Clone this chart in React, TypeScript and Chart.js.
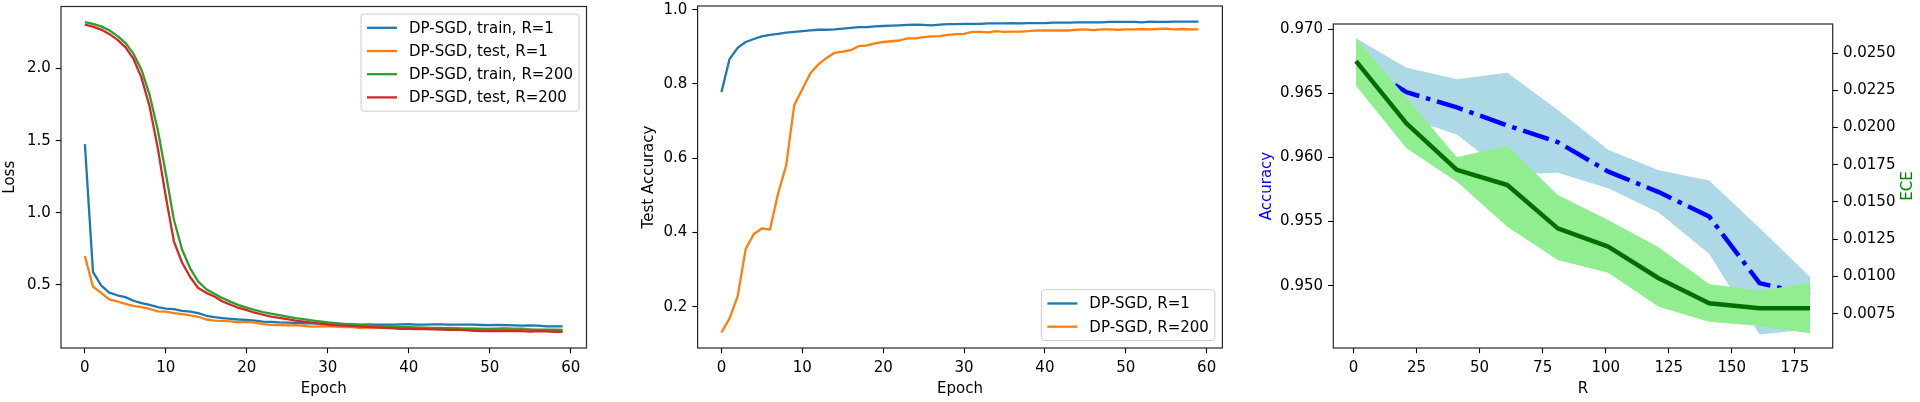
import React, { useEffect, useRef } from "react";
import { Chart, registerables } from "chart.js";

Chart.register(...registerables);

const FAMILY = "'DejaVu Sans', sans-serif";
const FS = 15;

// ---------- Panel 1: loss ----------
const epochs = Array.from({ length: 60 }, (_, i) => i);
const lossTrainR1 = [
  1.476, 0.59, 0.497, 0.447, 0.428, 0.415, 0.39, 0.373, 0.362, 0.346,
  0.336, 0.332, 0.32, 0.314, 0.304, 0.286, 0.276, 0.27, 0.265, 0.26,
  0.258, 0.252, 0.246, 0.244, 0.24, 0.238, 0.236, 0.234, 0.233, 0.231,
  0.23, 0.228, 0.227, 0.226, 0.225, 0.226, 0.225, 0.224, 0.225, 0.226,
  0.227, 0.225, 0.224, 0.226, 0.226, 0.225, 0.225, 0.224, 0.224, 0.222,
  0.221, 0.222, 0.221, 0.22, 0.218, 0.219, 0.217, 0.212, 0.213, 0.212,
];
const lossTestR1 = [
  0.7, 0.488, 0.445, 0.4, 0.385, 0.368, 0.355, 0.346, 0.333, 0.316,
  0.314, 0.305, 0.297, 0.289, 0.279, 0.26, 0.252, 0.25, 0.247, 0.24,
  0.244, 0.238, 0.228, 0.223, 0.222, 0.22, 0.221, 0.216, 0.21, 0.212,
  0.213, 0.21, 0.208, 0.209, 0.2, 0.205, 0.203, 0.202, 0.2, 0.198,
  0.203, 0.2, 0.198, 0.196, 0.198, 0.202, 0.198, 0.197, 0.196, 0.195,
  0.197, 0.199, 0.201, 0.197, 0.198, 0.19, 0.185, 0.183, 0.182, 0.181,
];
const lossTrainR200 = [
  2.321, 2.31, 2.292, 2.265, 2.226, 2.178, 2.103, 1.99, 1.815, 1.575,
  1.27, 0.95, 0.745, 0.615, 0.523, 0.47, 0.438, 0.408, 0.382, 0.36,
  0.342, 0.326, 0.312, 0.3, 0.29, 0.28, 0.27, 0.262, 0.254, 0.247,
  0.24, 0.235, 0.23, 0.226, 0.222, 0.219, 0.216, 0.213, 0.211, 0.209,
  0.207, 0.205, 0.204, 0.202, 0.201, 0.199, 0.198, 0.197, 0.196, 0.195,
  0.194, 0.193, 0.192, 0.192, 0.191, 0.19, 0.19, 0.189, 0.189, 0.188,
];
const lossTestR200 = [
  2.305, 2.29, 2.27, 2.24, 2.2, 2.148, 2.068, 1.935, 1.735, 1.45,
  1.11, 0.8, 0.655, 0.555, 0.478, 0.445, 0.42, 0.385, 0.362, 0.34,
  0.325, 0.307, 0.293, 0.28, 0.272, 0.262, 0.253, 0.245, 0.238, 0.232,
  0.225, 0.22, 0.217, 0.214, 0.21, 0.207, 0.205, 0.203, 0.2, 0.196,
  0.195, 0.194, 0.193, 0.191, 0.19, 0.188, 0.189, 0.186, 0.182, 0.18,
  0.18, 0.181, 0.18, 0.179, 0.179, 0.176, 0.18, 0.178, 0.175, 0.174,
];
const lossLabels = [
  "DP-SGD, train, R=1",
  "DP-SGD, test, R=1",
  "DP-SGD, train, R=200",
  "DP-SGD, test, R=200",
];
const epochTicks = [0, 10, 20, 30, 40, 50, 60];
const lossTicks = [0.5, 1.0, 1.5, 2.0];

// ---------- Panel 2: test accuracy ----------
const accR1 = [
  0.778, 0.867, 0.897, 0.913, 0.921, 0.928, 0.932, 0.935, 0.938, 0.94,
  0.942, 0.944, 0.946, 0.946, 0.947, 0.949, 0.951, 0.953, 0.953, 0.955,
  0.956, 0.957, 0.958, 0.959, 0.96, 0.959, 0.958, 0.96, 0.961, 0.961,
  0.962, 0.962, 0.962, 0.963, 0.963, 0.963, 0.964, 0.963, 0.964, 0.964,
  0.964, 0.965, 0.965, 0.965, 0.966, 0.966, 0.966, 0.966, 0.967, 0.967,
  0.967, 0.967, 0.966, 0.968, 0.967, 0.967, 0.968, 0.968, 0.968, 0.968,
];
const accR200 = [
  0.131, 0.169, 0.228, 0.356, 0.396, 0.411, 0.408, 0.505, 0.58, 0.743,
  0.786, 0.829, 0.853, 0.87, 0.884, 0.887, 0.891, 0.902, 0.904, 0.909,
  0.913, 0.915, 0.917, 0.923, 0.923, 0.926, 0.928, 0.929, 0.932, 0.934,
  0.935, 0.94, 0.94, 0.939, 0.942, 0.94, 0.941, 0.941, 0.942, 0.944,
  0.944, 0.944, 0.944, 0.944, 0.946, 0.947, 0.945, 0.947, 0.947, 0.946,
  0.947, 0.947, 0.948, 0.947, 0.948, 0.949, 0.947, 0.948, 0.947, 0.947,
];
const accLabels = ["DP-SGD, R=1", "DP-SGD, R=200"];
const accTicks = [0.2, 0.4, 0.6, 0.8, 1.0];

// ---------- Panel 3: accuracy & ECE vs R ----------
const Rvals = [1, 21, 41, 61, 81, 101, 121, 141, 161, 181];
const accMean = [0.9675, 0.9651, 0.9639, 0.9625, 0.9612, 0.9589, 0.9573, 0.9554, 0.9502, 0.9493];
const accUpper = [0.9693, 0.967, 0.9661, 0.9666, 0.9637, 0.9606, 0.959, 0.9582, 0.9545, 0.9507];
const accLower = [0.966, 0.9631, 0.9618, 0.9587, 0.9588, 0.9576, 0.9557, 0.9525, 0.9462, 0.9466];
const eceMean = [0.02446, 0.02028, 0.01715, 0.01614, 0.01323, 0.012, 0.00988, 0.0082, 0.00786, 0.00786];
const eceUpper = [0.026, 0.022, 0.018, 0.01878, 0.01547, 0.01379, 0.01196, 0.00949, 0.00904, 0.00958];
const eceLower = [0.0228, 0.0186, 0.01636, 0.01334, 0.0111, 0.01025, 0.00797, 0.00696, 0.00667, 0.00618];
const rTicks = [0, 25, 50, 75, 100, 125, 150, 175];
const accRTicks = [0.95, 0.955, 0.96, 0.965, 0.97];
const eceTicks = [0.0075, 0.01, 0.0125, 0.015, 0.0175, 0.02, 0.0225, 0.025];

const C_BLUE = "#1f77b4";
const C_ORANGE = "#ff7f0e";
const C_GREEN = "#2ca02c";
const C_RED = "#d62728";

const font = { family: FAMILY, size: FS };
const LW = 2.3;
const TICKLEN = 5.25;

const pts = (xs: number[], ys: number[]) => xs.map((x, i) => ({ x, y: ys[i] }));

const framePlugin = {
  id: "frame",
  afterDatasetsDraw(chart: any) {
    const { ctx, chartArea: a } = chart;
    ctx.save();
    ctx.strokeStyle = "#262626";
    ctx.lineWidth = 1.2;
    ctx.strokeRect(a.left, a.top, a.right - a.left, a.bottom - a.top);
    ctx.restore();
  },
};

const legendPlugin = {
  id: "mplLegend",
  afterDraw(chart: any, _args: any, opts: any) {
    if (!opts || !opts.items) return;
    const { ctx, chartArea: a } = chart;
    const em = FS;
    const pad = 0.4 * em;
    const hl = 2 * em;
    const htp = 0.8 * em;
    const h = 15.6;
    const s = 7.6;
    const items = opts.items as { label: string; color: string }[];
    ctx.save();
    ctx.font = `${FS}px ${FAMILY}`;
    const tw = Math.max(...items.map((it) => ctx.measureText(it.label).width));
    const w = pad + hl + htp + tw + pad;
    const H = items.length * (h + s) - s + 2 * pad;
    const right = a.right - 0.5 * em;
    const left = right - w;
    const top = opts.loc === "lower right" ? a.bottom - 0.5 * em - H : a.top + 0.5 * em;
    ctx.beginPath();
    const r = 3;
    ctx.moveTo(left + r, top);
    ctx.lineTo(left + w - r, top);
    ctx.arcTo(left + w, top, left + w, top + r, r);
    ctx.lineTo(left + w, top + H - r);
    ctx.arcTo(left + w, top + H, left + w - r, top + H, r);
    ctx.lineTo(left + r, top + H);
    ctx.arcTo(left, top + H, left, top + H - r, r);
    ctx.lineTo(left, top + r);
    ctx.arcTo(left, top, left + r, top, r);
    ctx.closePath();
    ctx.fillStyle = "rgba(255,255,255,0.8)";
    ctx.fill();
    ctx.strokeStyle = "#cccccc";
    ctx.lineWidth = 1;
    ctx.stroke();
    items.forEach((it, i) => {
      const cy = top + pad + h / 2 + i * (h + s);
      ctx.beginPath();
      ctx.strokeStyle = it.color;
      ctx.lineWidth = LW;
      ctx.moveTo(left + pad, cy);
      ctx.lineTo(left + pad + hl, cy);
      ctx.stroke();
      ctx.fillStyle = "#000";
      ctx.textAlign = "left";
      ctx.textBaseline = "middle";
      ctx.fillText(it.label, left + pad + hl + htp, cy + 1);
    });
    ctx.restore();
  },
};

const rightTitlePlugin = {
  id: "rightTitle",
  afterDraw(chart: any, _args: any, opts: any) {
    if (!opts || !opts.text) return;
    const { ctx } = chart;
    ctx.save();
    ctx.font = `${FS}px ${FAMILY}`;
    ctx.fillStyle = opts.color;
    ctx.translate(opts.x, opts.y);
    ctx.rotate(-Math.PI / 2);
    ctx.textAlign = "center";
    ctx.textBaseline = "middle";
    ctx.fillText(opts.text, 0, 0);
    ctx.restore();
  },
};

function tickGrid() {
  return {
    display: true,
    drawOnChartArea: false,
    drawTicks: true,
    tickLength: TICKLEN,
    tickColor: "#000",
    tickWidth: 1.1,
  };
}

function xScale(min: number, max: number, ticks: number[], title: string) {
  return {
    type: "linear",
    min,
    max,
    afterBuildTicks: (s: any) => {
      s.ticks = ticks.map((v) => ({ value: v }));
    },
    afterFit: (s: any) => {
      s.height = 54;
      s.paddingLeft = 0;
      s.paddingRight = 0;
    },
    ticks: {
      font,
      color: "#000",
      padding: 5.5,
      maxRotation: 0,
      autoSkip: false,
      callback: (v: number) => String(v),
    },
    grid: tickGrid(),
    border: { display: false },
    title: { display: true, text: title, font, color: "#000", padding: { top: 0, bottom: 4 } },
  };
}

function yScale(
  min: number,
  max: number,
  ticks: number[],
  digits: number,
  width: number,
  position: string,
  title: any
) {
  return {
    type: "linear",
    position,
    min,
    max,
    afterBuildTicks: (s: any) => {
      s.ticks = ticks.map((v) => ({ value: v }));
    },
    afterFit: (s: any) => {
      s.width = width;
      s.paddingTop = 0;
      s.paddingBottom = 0;
    },
    ticks: {
      font,
      color: "#000",
      padding: 5,
      autoSkip: false,
      callback: (v: number) => v.toFixed(digits),
    },
    grid: tickGrid(),
    border: { display: false },
    title,
  };
}

function lineDs(label: string, xs: number[], ys: number[], color: string, order: number) {
  return {
    label,
    data: pts(xs, ys),
    borderColor: color,
    backgroundColor: color,
    borderWidth: LW,
    pointRadius: 0,
    tension: 0,
    fill: false,
    order,
    borderJoinStyle: "round",
    borderCapStyle: "butt",
  };
}

function makeLoss(): any {
  return {
    type: "line",
    data: {
      datasets: [
        lineDs(lossLabels[0], epochs, lossTrainR1, C_BLUE, 4),
        lineDs(lossLabels[1], epochs, lossTestR1, C_ORANGE, 3),
        lineDs(lossLabels[2], epochs, lossTrainR200, C_GREEN, 2),
        lineDs(lossLabels[3], epochs, lossTestR200, C_RED, 1),
      ],
    },
    options: {
      responsive: false,
      animation: false,
      devicePixelRatio: 1,
      events: [],
      layout: { padding: { left: 0, right: 53.5, top: 6.5, bottom: 0 } },
      scales: {
        x: xScale(-2.95, 61.95, epochTicks, "Epoch"),
        y: yScale(0.0625, 2.43, lossTicks, 1, 61, "left", {
          display: true,
          text: "Loss",
          font,
          color: "#000",
          padding: { top: 1, bottom: 0 },
        }),
      },
      plugins: {
        legend: { display: false },
        tooltip: { enabled: false },
        mplLegend: {
          loc: "upper right",
          items: [
            { label: lossLabels[0], color: C_BLUE },
            { label: lossLabels[1], color: C_ORANGE },
            { label: lossLabels[2], color: C_GREEN },
            { label: lossLabels[3], color: C_RED },
          ],
        },
      },
    },
    plugins: [framePlugin, legendPlugin],
  };
}

function makeAcc(): any {
  return {
    type: "line",
    data: {
      datasets: [
        lineDs(accLabels[0], epochs, accR1, C_BLUE, 2),
        lineDs(accLabels[1], epochs, accR200, C_ORANGE, 1),
      ],
    },
    options: {
      responsive: false,
      animation: false,
      devicePixelRatio: 1,
      events: [],
      layout: { padding: { left: 0, right: 17.6, top: 6, bottom: 0 } },
      scales: {
        x: xScale(-2.95, 61.95, epochTicks, "Epoch"),
        y: yScale(0.0892, 1.0099, accTicks, 1, 57.6, "left", {
          display: true,
          text: "Test Accuracy",
          font,
          color: "#000",
          padding: { top: 0, bottom: 0 },
        }),
      },
      plugins: {
        legend: { display: false },
        tooltip: { enabled: false },
        mplLegend: {
          loc: "lower right",
          items: [
            { label: accLabels[0], color: C_BLUE },
            { label: accLabels[1], color: C_ORANGE },
          ],
        },
      },
    },
    plugins: [framePlugin, legendPlugin],
  };
}

function makeR(): any {
  const band = (ys: number[], axis: string, order: number, fill: any, bg: string) => ({
    label: "",
    data: pts(Rvals, ys),
    yAxisID: axis,
    borderColor: "rgba(0,0,0,0)",
    borderWidth: 1,
    backgroundColor: bg,
    pointRadius: 0,
    tension: 0,
    fill,
    order,
  });
  return {
    type: "line",
    data: {
      datasets: [
        band(accLower, "y", 10, false, "rgba(0,0,0,0)"),
        band(accUpper, "y", 9, "-1", "#add8e6"),
        {
          label: "Accuracy",
          data: pts(Rvals, accMean),
          yAxisID: "y",
          borderColor: "#0000ff",
          borderWidth: 4.5,
          borderDash: [27, 7, 4.5, 7],
          borderCapStyle: "butt",
          borderJoinStyle: "round",
          pointRadius: 0,
          tension: 0,
          fill: false,
          order: 8,
        },
        band(eceLower, "y1", 7, false, "rgba(0,0,0,0)"),
        band(eceUpper, "y1", 6, "-1", "#90ee90"),
        {
          label: "ECE",
          data: pts(Rvals, eceMean),
          yAxisID: "y1",
          borderColor: "#006e00",
          borderWidth: 4.5,
          borderCapStyle: "butt",
          borderJoinStyle: "round",
          pointRadius: 0,
          tension: 0,
          fill: false,
          order: 5,
        },
      ],
    },
    options: {
      responsive: false,
      animation: false,
      devicePixelRatio: 1,
      events: [],
      layout: { padding: { left: 0, right: 0, top: 24, bottom: 0 } },
      scales: {
        x: xScale(-8, 190, rTicks, "R"),
        y: yScale(0.94514, 0.97041, accRTicks, 3, 93.3, "left", {
          display: true,
          text: "Accuracy",
          font,
          color: "#0000ff",
          padding: { top: 17.7, bottom: 0 },
        }),
        y1: yScale(0.005197, 0.026947, eceTicks, 4, 87.3, "right", { display: false }),
      },
      plugins: {
        legend: { display: false },
        tooltip: { enabled: false },
        rightTitle: { text: "ECE", color: "#008000", x: 1908 - 1240, y: 186 },
      },
    },
    plugins: [framePlugin, rightTitlePlugin],
  };
}

function ChartCanvas({ left, width, make }: { left: number; width: number; make: () => any }) {
  const ref = useRef<HTMLCanvasElement>(null);
  useEffect(() => {
    const chart = new Chart(ref.current as HTMLCanvasElement, make());
    return () => chart.destroy();
  }, []);
  return (
    <canvas
      ref={ref}
      width={width}
      height={402}
      style={{ position: "absolute", left, top: 0, width, height: 402 }}
    />
  );
}

export default function App() {
  Chart.defaults.font.family = FAMILY;
  return (
    <div
      style={{
        position: "fixed",
        left: 0,
        top: 0,
        width: 1920,
        height: 402,
        background: "#ffffff",
        overflow: "hidden",
      }}
    >
      <ChartCanvas left={0} width={640} make={makeLoss} />
      <ChartCanvas left={640} width={600} make={makeAcc} />
      <ChartCanvas left={1240} width={680} make={makeR} />
    </div>
  );
}
